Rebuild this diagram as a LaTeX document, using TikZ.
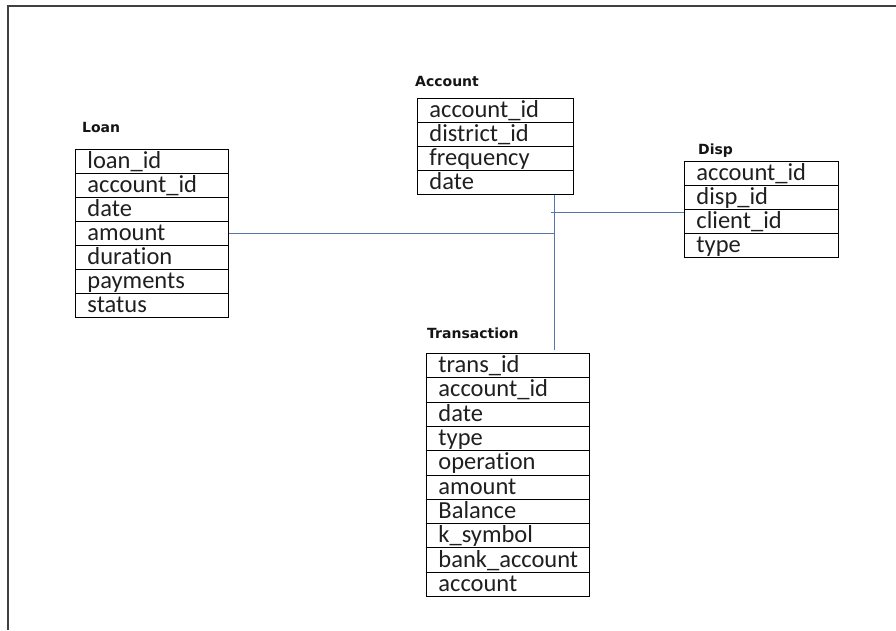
\documentclass[tikz,border=0pt]{standalone}
\usepackage{fontspec}
\setmainfont{Carlito}[Ligatures=NoCommon]
\newfontfamily\titlefont{DejaVu Sans}
\usetikzlibrary{calc}
\definecolor{connblue}{RGB}{84,118,170}
\tikzset{
  cellbox/.style={draw=black, line width=0.9pt, inner xsep=6pt, inner ysep=0pt,
    text height=18pt, text depth=4pt, minimum height=24pt, anchor=north west,
    align=left, font=\fontsize{24.5}{26}\selectfont, text=black!88,
    execute at begin node={\hspace*{6pt}}},
  tabtitle/.style={anchor=base west, inner sep=0pt, font=\titlefont\bfseries\fontsize{14}{16}\selectfont, text=black!92},
  conn/.style={draw=connblue, line width=0.9pt},
  frameline/.style={draw=black!75, line width=1.6pt}
}
\begin{document}
\begin{tikzpicture}[x=1pt,y=-1pt]
\useasboundingbox (0,0) rectangle (896,630);
\draw[frameline] (8,630) -- (8,6) -- (896,6);

% Loan
\node[tabtitle] (loantitle) at (82,132) {Loan};
\foreach \t [count=\i] in {loan\_id,account\_id,date,amount,duration,payments,status}
  \node[cellbox, text width=141pt] (loan-\i) at ({75},{149+(\i-1)*24}) {\t};

% Account
\node[tabtitle] (acctitle) at (415,86) {Account};
\foreach \t [count=\i] in {account\_id,district\_id,frequency,date}
  \node[cellbox, text width=144pt] (acc-\i) at ({417},{98+(\i-1)*24}) {\t};

% Disp
\node[tabtitle] (disptitle) at (698,154) {Disp};
\foreach \t [count=\i] in {account\_id,disp\_id,client\_id,type}
  \node[cellbox, text width=142pt] (disp-\i) at ({684},{161+(\i-1)*24}) {\t};

% Transaction
\node[tabtitle] (transtitle) at (427,338) {Transaction};
\foreach \t [count=\i] in {trans\_id,account\_id,date,type,operation,amount,Balance,k\_symbol,bank\_account,account}
  \node[cellbox, text width=151pt, minimum height=24.3pt] (trans-\i) at ({426},{353+(\i-1)*24.3}) {\t};

% connectors
\coordinate (vx) at (554,0);
\coordinate (dx) at (551,0);
\draw[conn] (vx |- acc-4.south) -- ($(vx |- trans-1.north)+(0,-3)$);
\draw[conn] (loan-4.east) -- (loan-4.east -| vx);
\draw[conn] ($(disp-3.north west)+(0,3)$) -- ($(disp-3.north west -| dx)+(0,3)$);
\end{tikzpicture}
\end{document}
